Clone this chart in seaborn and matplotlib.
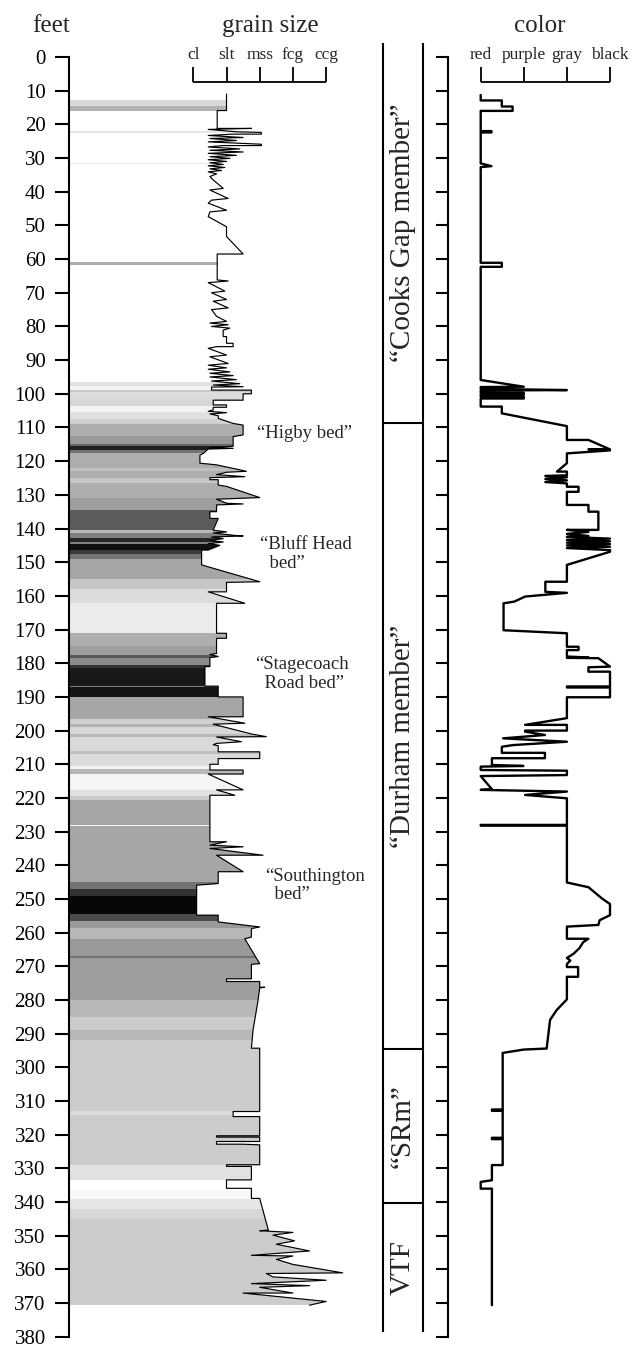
import numpy as np
import matplotlib
matplotlib.use("Agg")
import matplotlib.pyplot as plt
from matplotlib.patches import PathPatch
import seaborn as sns

# grain size log: (depth ft, class) with 0=cl 1=slt 2=mss 3=fcg 4=ccg
grain_profile = [
    (11.0, 1.0), (15.9, 1.0), (15.9, 0.72), (21.2, 0.72),
    (21.2, 1.75), (21.5, 0.45), (22.2, 1.3), (22.4, 2.05), (22.9, 2.05), (22.9, 1.2),
    (23.3, 0.45), (23.9, 1.5), (24.2, 0.5), (24.8, 1.3), (25.2, 0.45), (25.9, 2.05),
    (26.3, 2.05), (26.3, 0.9), (26.7, 0.45), (27.3, 1.4), (27.7, 0.5), (28.2, 1.5),
    (28.6, 0.45), (29.2, 1.3), (29.6, 0.5), (30.1, 1.1), (30.5, 0.45), (31.0, 1.0),
    (31.4, 0.5), (31.9, 0.9), (32.3, 0.45), (32.8, 0.95), (33.2, 0.5), (33.7, 0.85),
    (34.1, 0.45), (34.7, 0.7), (35.5, 0.5),
    (36.5, 0.6), (39.0, 0.9), (39.5, 0.5), (42.0, 1.05), (42.5, 0.55), (43.4, 0.45),
    (45.5, 1.0), (46.0, 0.5), (47.4, 0.45), (50.4, 1.0), (53.3, 1.0), (58.5, 1.5),
    (58.5, 0.72), (66.2, 0.72),
    (66.5, 1.05), (67.0, 0.45), (69.5, 0.95), (70.0, 0.55), (72.0, 1.0), (72.5, 0.6),
    (74.5, 1.05), (75.0, 0.55), (77.0, 0.7), (78.5, 1.0), (79.0, 0.5), (79.5, 1.05),
    (80.0, 0.55), (80.5, 1.1), (81.1, 0.9), (83.0, 0.9), (83.0, 1.0), (85.0, 1.0),
    (85.0, 1.2), (86.0, 1.2), (86.0, 0.7), (86.5, 0.45), (88.5, 1.0), (89.0, 0.5),
    (91.0, 1.05), (91.5, 0.45), (92.3, 1.0), (92.7, 0.45), (93.5, 1.1), (93.9, 0.5),
    (94.6, 1.2), (95.0, 0.5), (95.8, 1.3), (96.2, 0.55), (97.0, 1.4), (97.4, 0.6),
    (97.9, 1.5), (98.0, 0.55), (98.9, 0.55), (98.9, 1.75), (100.0, 1.75), (100.0, 1.5),
    (101.9, 1.5), (101.9, 0.6), (103.3, 0.6), (103.3, 1.0), (104.0, 1.0), (104.0, 0.6),
    (104.8, 0.6), (105.2, 0.45), (105.6, 1.0), (106.0, 0.5), (106.5, 0.75), (107.3, 0.75),
    (108.8, 1.2), (109.3, 1.5), (112.2, 1.5), (112.7, 1.2), (115.6, 1.2), (116.0, 0.5),
    (116.2, 1.2), (116.4, 0.45), (117.7, 0.3), (118.2, 0.2), (120.6, 0.2), (121.1, 0.7),
    (123.0, 1.6), (123.3, 1.0), (124.0, 0.7), (124.6, 1.55), (124.9, 0.5), (125.5, 0.5),
    (125.5, 0.75), (127.1, 0.75), (127.5, 1.0), (130.8, 2.0), (131.3, 0.7), (132.5, 1.0),
    (132.7, 1.5), (133.0, 0.7), (135.0, 0.7), (135.0, 0.5), (137.0, 0.5), (137.0, 0.75),
    (140.5, 0.6), (141.0, 1.0), (141.3, 0.6), (142.0, 1.2), (142.2, 1.5), (142.5, 0.55),
    (143.0, 0.9), (143.5, 0.5), (144.0, 0.9), (144.5, 0.45), (145.0, 0.8), (146.4, 0.45),
    (146.4, 0.25), (150.8, 0.25), (155.8, 2.0), (156.0, 1.0), (158.8, 1.0), (158.8, 0.45),
    (162.2, 1.55), (162.2, 0.7), (171.1, 0.7), (171.1, 1.0), (172.6, 1.0), (172.6, 0.7),
    (177.1, 0.7), (177.4, 0.5), (178.0, 0.75), (178.3, 0.5), (181.0, 0.5), (181.0, 0.35),
    (186.8, 0.35), (186.8, 0.75), (190.0, 0.75), (190.0, 1.5), (195.9, 1.5), (195.9, 0.45),
    (197.8, 1.55), (198.1, 0.6), (201.0, 1.75), (201.8, 2.2), (201.9, 0.7), (203.3, 1.45),
    (203.8, 0.7), (204.2, 0.6), (204.5, 0.75), (206.3, 0.75), (206.3, 2.0), (208.3, 2.0),
    (208.3, 0.75), (210.0, 0.75), (210.0, 0.5), (211.7, 0.5), (211.7, 1.5), (212.9, 1.5),
    (212.9, 0.45), (217.6, 1.5), (217.6, 0.7), (219.2, 1.25), (219.2, 0.5), (233.0, 0.5),
    (233.0, 1.0), (234.0, 0.5), (234.5, 1.5), (235.0, 0.5), (237.0, 2.1), (237.0, 0.7),
    (241.9, 1.5), (241.9, 0.75), (245.4, 0.75), (245.9, 0.1), (254.8, 0.1), (254.8, 0.75),
    (256.8, 0.75), (258.3, 2.0), (258.8, 1.75), (261.3, 1.75), (261.8, 1.55), (269.2, 2.0),
    (269.4, 1.75), (273.7, 1.75), (273.7, 1.0), (274.5, 1.0), (274.5, 2.0), (276.2, 2.0),
    (276.2, 2.15), (276.4, 2.0), (280.1, 1.95), (288.9, 1.8), (294.3, 1.75), (294.3, 2.0),
    (313.1, 2.0), (313.1, 1.2), (314.6, 1.2), (314.6, 2.0), (320.3, 2.0), (320.3, 0.7),
    (320.7, 0.7), (320.7, 2.0), (322.0, 2.0), (322.0, 0.7), (322.8, 0.7), (322.8, 1.5),
    (323.0, 2.0), (328.9, 2.0), (328.9, 1.0), (329.4, 1.0), (329.4, 1.75), (333.4, 1.75),
    (333.4, 1.0), (335.9, 1.0), (335.9, 1.75), (338.9, 1.75), (338.9, 2.0), (348.3, 2.26),
    (348.5, 2.0), (349.0, 3.0), (349.8, 2.4), (351.5, 3.05), (352.5, 2.5), (354.5, 3.5),
    (355.8, 1.75), (356.0, 3.0), (357.0, 2.5), (358.5, 3.0), (361.0, 4.5), (361.2, 2.2),
    (362.2, 2.4), (363.2, 4.0), (364.2, 1.75), (364.8, 3.5), (365.3, 2.0), (367.0, 3.0),
    (367.0, 1.5), (369.5, 4.0), (370.6, 3.5),
]

# rock color log: (depth ft, class) with 0=red 1=purple 2=gray 3=black
color_profile = [
    (11.3, 0.0), (12.9, 0.0), (12.9, 0.49), (14.7, 0.49), (14.7, 0.74), (16.0, 0.74),
    (16.0, 0.0), (22.0, 0.0), (22.0, 0.25), (22.4, 0.25), (22.4, 0.0), (31.6, 0.0),
    (32.4, 0.25), (32.7, 0.0), (61.1, 0.0), (61.1, 0.49), (62.3, 0.49), (62.3, 0.0),
    (95.9, 0.0), (97.9, 1.0), (98.0, 0.0), (98.5, 0.0), (98.7, 1.0), (98.9, 2.0),
    (99.0, 0.0), (99.7, 0.0), (99.7, 1.0), (100.2, 1.0), (100.2, 0.0), (100.8, 0.0),
    (100.8, 1.0), (101.4, 1.0), (101.4, 0.0), (103.8, 0.0), (103.8, 0.49), (105.8, 0.49),
    (109.6, 2.0), (113.7, 2.0), (113.7, 2.5), (116.5, 3.0), (116.5, 2.5), (116.8, 3.0),
    (117.7, 2.0), (120.6, 2.0), (123.1, 1.77), (123.1, 2.0), (124.2, 2.0), (124.4, 1.5),
    (124.8, 2.0), (125.3, 1.5), (125.7, 2.0), (126.2, 1.5), (126.6, 2.0), (127.6, 2.0),
    (127.6, 2.27), (129.1, 2.27), (129.1, 2.0), (133.0, 2.0), (133.0, 2.5), (135.0, 2.5),
    (135.0, 2.73), (140.4, 2.73), (140.4, 2.0), (141.0, 2.5), (141.6, 2.0), (142.2, 2.5),
    (142.5, 2.0), (143.0, 3.0), (143.4, 2.0), (143.8, 3.0), (144.2, 2.0), (144.6, 3.0),
    (145.0, 2.0), (145.4, 3.0), (145.8, 2.0), (146.4, 3.0), (146.9, 3.0), (150.8, 2.0),
    (155.8, 2.0), (155.8, 1.5), (158.8, 1.5), (159.1, 2.0), (160.2, 1.03), (161.7, 0.78),
    (162.2, 0.53), (170.2, 0.53), (171.1, 2.0), (175.1, 2.0), (175.1, 2.27), (176.1, 2.27),
    (176.1, 2.0), (178.0, 2.0), (178.3, 2.5), (178.4, 2.0), (178.5, 2.73), (181.0, 3.0),
    (181.2, 2.5), (182.5, 2.5), (182.5, 3.0), (186.9, 3.0), (186.9, 2.0), (187.2, 2.0),
    (187.2, 3.0), (190.1, 3.0), (190.1, 2.0), (196.3, 2.0), (198.3, 1.03), (198.3, 2.0),
    (200.0, 2.0), (200.0, 1.03), (200.3, 1.03), (201.3, 1.49), (202.3, 0.52), (203.3, 2.0),
    (204.3, 0.75), (204.8, 0.49), (206.6, 0.49), (206.6, 1.49), (208.2, 1.49), (208.2, 0.26),
    (210.2, 0.26), (210.5, 0.99), (210.7, 0.0), (211.7, 0.0), (211.9, 2.0), (213.2, 2.0),
    (213.5, 0.0), (217.4, 0.26), (217.6, 0.0), (218.1, 2.0), (219.1, 1.03), (220.1, 2.0),
    (228.0, 2.0), (228.0, 0.0), (228.2, 0.0), (228.2, 2.0), (245.1, 2.0), (246.5, 2.5),
    (249.8, 2.81), (251.5, 3.0), (254.8, 3.0), (256.3, 2.76), (257.7, 2.73), (258.2, 2.0),
    (261.8, 2.0), (261.8, 2.5), (262.8, 2.38), (264.6, 2.29), (266.3, 2.15), (267.5, 2.0),
    (268.3, 2.08), (269.3, 2.0), (270.2, 2.0), (270.2, 2.26), (273.1, 2.26), (273.1, 2.0),
    (279.8, 2.0), (283.0, 1.76), (285.9, 1.61), (294.4, 1.53), (294.7, 1.0), (295.7, 0.51),
    (312.5, 0.51), (312.5, 0.26), (312.9, 0.26), (312.9, 0.51), (320.9, 0.51), (320.9, 0.26),
    (321.3, 0.26), (321.3, 0.51), (329.0, 0.51), (329.0, 0.26), (333.5, 0.26), (334.0, 0.0),
    (336.0, 0.0), (336.0, 0.26), (370.6, 0.26),
]

# gray shading inside the grain column (band edges in ft, gray level 0=black 1=white)
shade_edges = [
    0, 12.8, 14.5, 15.9, 22.0, 22.5, 31.4, 31.9, 60.8, 61.8, 96.4, 97.6, 98.9, 99.6,
    101.6, 103.5, 105.5, 107.5, 109.0, 112.5, 114.8, 115.6, 116.6, 117.6, 122.0, 123.0,
    125.0, 126.5, 131.0, 134.5, 140.3, 141.2, 142.8, 144.0, 144.6, 146.4, 147.6, 149.0,
    155.0, 158.0, 162.0, 171.0, 175.0, 177.5, 178.3, 180.5, 181.5, 186.8, 187.2, 190.0,
    196.5, 198.0, 199.0, 201.0, 202.0, 206.0, 207.0, 210.5, 211.5, 212.8, 217.6, 219.5,
    220.6, 227.9, 228.3, 245.0, 247.0, 249.0, 254.5, 256.5, 258.5, 261.8, 267.0, 267.6,
    280.0, 285.0, 289.0, 292.0, 313.0, 314.2, 329.0, 333.4, 336.5, 339.0, 342.0, 345.0,
    371.0,
]
shade_gray = [
    1.0, 0.85, 0.7, 1.0, 0.9, 1.0, 0.9, 1.0, 0.68, 1.0, 0.88, 0.95, 0.78,
    0.86, 0.84, 0.95, 0.88, 0.82, 0.68, 0.6, 0.4, 0.12, 0.45, 0.68, 0.75,
    0.68, 0.78, 0.68, 0.62, 0.36, 0.72, 0.5, 0.15, 0.5, 0.06, 0.22, 0.45,
    0.65, 0.78, 0.86, 0.92, 0.68, 0.62, 0.35, 0.55, 0.2, 0.1, 0.5, 0.08,
    0.65, 0.82, 0.7, 0.85, 0.72, 0.85, 0.75, 0.86, 0.95, 0.72, 0.96, 0.88,
    0.8, 0.65, 0.95, 0.65, 0.45, 0.2, 0.03, 0.3, 0.6, 0.72, 0.6, 0.45,
    0.62, 0.72, 0.8, 0.72, 0.8, 0.86, 0.8, 0.88, 1.0, 0.97, 0.9, 0.84,
    0.8,
]

grain_labels = ["cl", "slt", "mss", "fcg", "ccg"]
color_labels = ["red", "purple", "gray", "black"]
member_names = ["\u201cCooks Gap member\u201d", "\u201cDurham member\u201d", "\u201cSRm\u201d", "VTF"]
member_bounds = [-4.3, 108.8, 294.5, 340.2, 378.5]
bed_names = ["\u201cHigby bed\u201d", "\u201cBluff Head\n  bed\u201d",
             "\u201cStagecoach\n  Road bed\u201d", "\u201cSouthington\n  bed\u201d"]
bed_depth = [111.7, 147.6, 183.2, 246.0]
bed_x = [1.92, 2.0, 1.86, 2.16]
depth_ticks = list(range(0, 381, 10))

sns.set_theme(style="white")
plt.rcParams["font.family"] = ["Liberation Serif", "DejaVu Serif"]

W, H = 631, 1347
fig = plt.figure(figsize=(W / 100, H / 100), dpi=100)

TOP_PX, PX_PER_FT, DEPTH_MAX = 57, 3.368, 380
ax_bottom = 1 - (TOP_PX + PX_PER_FT * DEPTH_MAX) / H
ax_height = PX_PER_FT * DEPTH_MAX / H

# grain size column
GX0, GSTEP = 193.3, 33.2
g_left, g_right = 69.3, 375
ax_g = fig.add_axes([g_left / W, ax_bottom, (g_right - g_left) / W, ax_height])
xlim_g = ((g_left - GX0) / GSTEP, (g_right - GX0) / GSTEP)

g_depth = [p[0] for p in grain_profile]
g_size = [p[1] for p in grain_profile]
poly = ax_g.fill_betweenx(g_depth, xlim_g[0], g_size, color="none", lw=0)
clip = PathPatch(poly.get_paths()[0], transform=ax_g.transData, fc="none", ec="none")
ax_g.add_patch(clip)
mesh = ax_g.pcolormesh([xlim_g[0], 5.0], shade_edges, np.array(shade_gray)[:, None],
                       cmap="gray", vmin=0, vmax=1, shading="flat", edgecolors="none")
mesh.set_clip_path(clip)
sns.lineplot(x=g_size, y=g_depth, sort=False, estimator=None, color="black",
             lw=0.85, ax=ax_g)

ax_g.set_xlim(*xlim_g)
ax_g.set_ylim(DEPTH_MAX, 0)
ax_g.set_facecolor("none")
for s in ["top", "right", "bottom"]:
    ax_g.spines[s].set_visible(False)
ax_g.spines["left"].set_color("black")
ax_g.spines["left"].set_linewidth(1.5)
ax_g.set_xticks([])
ax_g.set_yticks(depth_ticks)
ax_g.tick_params(axis="y", left=True, direction="out", length=10, width=1.5,
                 pad=7, labelsize=15, colors="black")
ax_g.set_xlabel("")
ax_g.set_ylabel("")

# grain size scale bracket
ax_g.hlines(7.3, 0, 4, color="black", lw=1.3, clip_on=False)
ax_g.vlines(range(len(grain_labels)), 3.0, 7.3, color="black", lw=1.3, clip_on=False)
for i, lab in enumerate(grain_labels):
    ax_g.text(i, -0.6, lab, ha="center", va="center", fontsize=12.5, clip_on=False)

for name, d, x in zip(bed_names, bed_depth, bed_x):
    ax_g.text(x, d, name, ha="left", va="center", fontsize=13.5, linespacing=1.12)

# color column
CX0, CSTEP = 480.7, 43.1
c_left = 448.3
ax_c = fig.add_axes([c_left / W, ax_bottom, (W - c_left) / W, ax_height])
c_depth = [p[0] for p in color_profile]
c_val = [p[1] for p in color_profile]
sns.lineplot(x=c_val, y=c_depth, sort=False, estimator=None, color="black",
             lw=1.7, ax=ax_c)
ax_c.set_xlim((c_left - CX0) / CSTEP, (W - CX0) / CSTEP)
ax_c.set_ylim(DEPTH_MAX, 0)
ax_c.set_facecolor("none")
for s in ["top", "right", "bottom"]:
    ax_c.spines[s].set_visible(False)
ax_c.spines["left"].set_color("black")
ax_c.spines["left"].set_linewidth(1.5)
ax_c.set_xticks([])
ax_c.set_yticks(depth_ticks)
ax_c.set_yticklabels([])
ax_c.tick_params(axis="y", left=True, direction="out", length=8.5, width=1.5,
                 colors="black")
ax_c.set_xlabel("")
ax_c.set_ylabel("")

ax_c.hlines(7.3, 0, 3, color="black", lw=1.3, clip_on=False)
ax_c.vlines(range(len(color_labels)), 3.0, 7.3, color="black", lw=1.3, clip_on=False)
for i, lab in enumerate(color_labels):
    ax_c.text(i, -0.6, lab, ha="center", va="center", fontsize=12.5, clip_on=False)

# member column between the two logs
mx0 = (382.7 - CX0) / CSTEP
mx1 = (422.7 - CX0) / CSTEP
ax_c.vlines([mx0, mx1], member_bounds[0], member_bounds[-1], color="black",
            lw=1.5, clip_on=False)
ax_c.hlines(member_bounds[1:-1], mx0, mx1, color="black", lw=1.5, clip_on=False)
for name, top, bot in zip(member_names, member_bounds[:-1], member_bounds[1:]):
    ax_c.text((mx0 + mx1) / 2, (top + bot) / 2, name, rotation=90, ha="center",
              va="center", fontsize=21, clip_on=False)

# column headings
for label, x in [("feet", 51.5), ("grain size", 270), ("color", 540)]:
    fig.text(x / W, 1 - 26 / H, label, ha="center", va="center", fontsize=18)

fig.savefig("out.png", dpi=100)
